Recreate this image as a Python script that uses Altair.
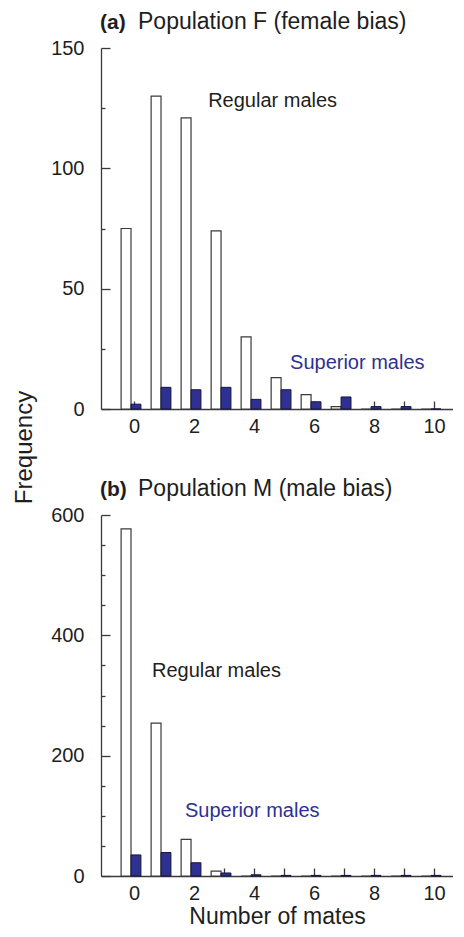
import altair as alt
import pandas as pd

# ---------------- data ----------------
mates = list(range(11))

regular_f = [75, 130, 121, 74, 30, 13, 6, 1, 0, 0, 0]
superior_f = [2, 9, 8, 9, 4, 8, 3, 5, 1, 1, 0]

regular_m = [577, 254, 61, 8, 0, 0, 0, 0, 0, 0, 0]
superior_m = [35, 39, 22, 5, 2, 1, 1, 1, 1, 1, 1]

y_major_f = [0, 50, 100, 150]
y_minor_f = [25, 75, 125]
y_major_m = [0, 200, 400, 600]
y_minor_m = [50, 100, 150, 250, 300, 350, 450, 500, 550]

note_labels = ["Regular males", "Superior males"]
note_x_f = [2.47, 5.2]
note_y_f = [128, 19]
note_x_m = [0.6, 1.7]
note_y_m = [341, 108]

tag_f, title_f = "(a)", "Population F (female bias)"
tag_m, title_m = "(b)", "Population M (male bias)"

# ---------------- style ----------------
FONT = "Liberation Sans"
INK = "#1e1e1e"
AXC = "#3a3a3a"
BLUE = "#2e3192"
XDOM = [-1.1, 10.63]


def panel(reg, sup, ymax, ymajor, yminor, note_x, note_y, tag, title, xtitle):
    bars = pd.DataFrame({"mates": mates, "regular": reg, "superior": sup})
    notes = pd.DataFrame({"x": note_x, "y": note_y, "label": note_labels})
    xs = alt.Scale(domain=XDOM, nice=False, zero=False)
    ys = alt.Scale(domain=[0, ymax], nice=False, zero=True)

    x_dom = alt.Axis(orient="bottom", domain=True, domainColor=AXC, domainWidth=1.3,
                     ticks=False, labels=False, grid=False, title=None)
    y_dom = alt.Axis(orient="left", domain=True, domainColor=AXC, domainWidth=1.3,
                     ticks=False, labels=False, grid=False, title=None)
    xkw = dict(title=None)
    if xtitle:
        xkw = dict(title=xtitle, titleFont=FONT, titleFontSize=23, titleFontWeight="normal",
                   titleColor=INK, titlePadding=2)
    x_ticks = alt.Axis(orient="bottom", domain=False, values=mates, ticks=True, tickSize=8,
                       tickColor=AXC, tickWidth=1.3, offset=-8, grid=False,
                       labelExpr="datum.value % 2 === 0 ? datum.label : ''",
                       labelFont=FONT, labelFontSize=20, labelColor=INK, labelPadding=7,
                       labelFlush=False, labelOverlap=False, **xkw)
    y_ticks = alt.Axis(orient="left", domain=False, values=ymajor, ticks=True, tickSize=9,
                       tickColor=AXC, tickWidth=1.3, offset=-9, grid=False,
                       labelFont=FONT, labelFontSize=20, labelColor=INK, labelPadding=17,
                       labelFlush=False, labelOverlap=False, title=None)
    y_minor = alt.Axis(orient="left", domain=False, values=yminor, ticks=True, tickSize=4,
                       tickColor=AXC, tickWidth=1.3, offset=-4, grid=False,
                       labels=False, title=None)

    white = alt.Chart(bars).transform_calculate(
        a="datum.mates - 0.43", b="datum.mates - 0.1"
    ).mark_bar(fill="white", stroke=AXC, strokeWidth=1.2).encode(
        x=alt.X("a:Q", scale=xs, axis=x_dom),
        x2="b:Q",
        y=alt.Y("regular:Q", scale=ys, axis=y_dom),
        y2=alt.datum(0),
    )
    blue = alt.Chart(bars).transform_calculate(
        a="datum.mates - 0.1", b="datum.mates + 0.23"
    ).mark_bar(fill=BLUE, stroke="#15153f", strokeWidth=1).encode(
        x=alt.X("a:Q", scale=xs, axis=x_ticks),
        x2="b:Q",
        y=alt.Y("superior:Q", scale=ys, axis=y_ticks),
        y2=alt.datum(0),
    )
    text = alt.Chart(notes).mark_text(align="left", baseline="middle", font=FONT,
                                      fontSize=20).encode(
        x=alt.X("x:Q", scale=xs, axis=None),
        y=alt.Y("y:Q", scale=ys, axis=y_minor),
        text="label:N",
        color=alt.Color("label:N", scale=alt.Scale(domain=note_labels, range=[INK, BLUE]),
                        legend=None),
    )
    tagm = alt.Chart(pd.DataFrame({"t": [tag]})).mark_text(
        align="left", baseline="alphabetic", font=FONT, fontSize=21, fontWeight="bold",
        color=INK).encode(x=alt.value(-1), y=alt.value(-19), text="t:N")
    titm = alt.Chart(pd.DataFrame({"t": [title]})).mark_text(
        align="left", baseline="alphabetic", font=FONT, fontSize=23, color=INK
    ).encode(x=alt.value(37), y=alt.value(-19), text="t:N")

    return alt.layer(white, blue, text, tagm, titm).resolve_axis(
        x="independent", y="independent").properties(width=352, height=361)


pa = panel(regular_f, superior_f, 150, y_major_f, y_minor_f, note_x_f, note_y_f,
           tag_f, title_f, None)
pb = panel(regular_m, superior_m, 600, y_major_m, y_minor_m, note_x_m, note_y_m,
           tag_m, title_m, "Number of mates")

chart = alt.vconcat(
    pa, pb, spacing=106, bounds="flush",
    title=alt.TitleParams("Frequency", orient="left", anchor="middle", font=FONT,
                          fontSize=24, fontWeight="normal", color=INK, offset=14,
                          dx=22),
).properties(
    padding={"left": 4, "top": 3, "right": 0, "bottom": 0}
).configure_view(stroke=None)

chart.save("out.html", embed_options={"renderer": "svg", "actions": False})
